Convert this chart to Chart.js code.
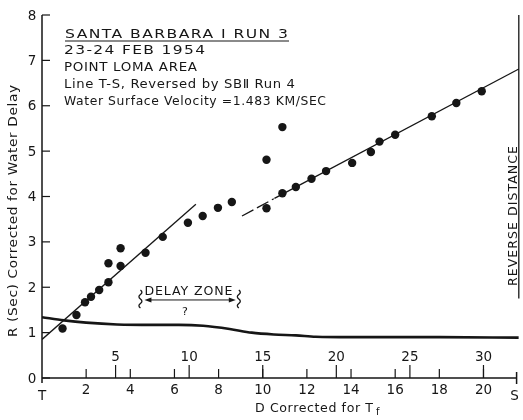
<!DOCTYPE html>
<html lang="en">
<head>
<meta charset="UTF-8">
<title>Santa Barbara I Run 3</title>
<script src="https://cdn.jsdelivr.net/npm/chart.js"></script>
<style>
  html, body { margin: 0; padding: 0; background: #fff; }
  canvas { display: block; }
</style>
</head>
<body>
<canvas id="travel" width="523" height="420"></canvas>
<script>
// shot points: D (corrected for Tf) vs R (sec, corrected for water delay)
const shotD = [0.93, 1.56, 1.95, 2.22, 2.59, 3.01, 3.01, 3.56, 3.56, 4.69, 5.47, 6.61, 7.28, 7.97, 8.6,
               10.17, 10.17, 10.89, 10.89, 11.5, 12.21, 12.87, 14.05, 14.9, 15.29, 16.0, 17.66, 18.77, 19.92];
const shotR = [1.09, 1.39, 1.67, 1.79, 1.94, 2.11, 2.53, 2.47, 2.86, 2.76, 3.11, 3.42, 3.57, 3.75, 3.88,
               4.81, 3.74, 5.53, 4.07, 4.21, 4.39, 4.56, 4.74, 4.98, 5.21, 5.36, 5.77, 6.06, 6.32];

// fitted lines
const nearD = [0, 6.97];
const nearR = [0.85, 3.83];
const farDashD = [9.06, 10.5];
const farDashR = [3.57, 3.95];
const farD = [10.53, 21.6];
const farR = [3.96, 6.81];

// water delay curve
const delayD = [0, 1, 2, 3.4, 5, 6.2, 7.3, 8.5, 9.5, 10.5, 11.5, 12.4, 14, 16, 18, 21.6];
const delayR = [1.34, 1.27, 1.22, 1.18, 1.17, 1.17, 1.15, 1.08, 1.0, 0.96, 0.94, 0.91, 0.9, 0.9, 0.9, 0.89];

// axes
const rTicks = [0, 1, 2, 3, 4, 5, 6, 7, 8];
const dTicks = [2, 4, 6, 8, 10, 12, 14, 16, 18, 20];
const kmTicks = [5, 10, 15, 20, 25, 30];
const kmPerD = 1.5;
const sD = 21.5;        // end of line at S
const reverseD = 21.6;  // reverse distance marker

const infoLines = [
  "23-24 FEB 1954",
  "POINT LOMA AREA",
  "Line T-S, Reversed by SB\u2161 Run 4",
  "Water Surface Velocity =1.483 KM/SEC"
];

const ink = '#161616';
const FONT = '"DejaVu Sans", sans-serif';

const pts = (xs, ys) => xs.map((x, i) => ({ x: x, y: ys[i] }));

// draw text stretched sideways to a given width (lettering is wide)
function fitted(ctx, str, x, y, width, sp) {
  sp = sp === undefined ? 0.6 : sp;
  ctx.letterSpacing = '0px';
  const w = ctx.measureText(str).width + sp * (str.length - 1);
  ctx.letterSpacing = sp + 'px';
  ctx.save();
  ctx.translate(x, y);
  ctx.scale(width / w, 1);
  ctx.fillText(str, 0, 0);
  ctx.restore();
  ctx.letterSpacing = '0px';
}

function squiggle(ctx, x, y1, y2) {
  const n = 4, h = (y2 - y1) / n;
  ctx.beginPath();
  ctx.moveTo(x, y1);
  for (let i = 0; i < n; i++) {
    const dx = i % 2 === 0 ? 3 : -3;
    ctx.quadraticCurveTo(x + dx, y1 + h * (i + 0.5), x, y1 + h * (i + 1));
  }
  ctx.stroke();
}

const paperAxes = {
  id: 'paperAxes',
  beforeDatasetsDraw(chart) {
    const { ctx, scales: { x, y } } = chart;
    const x0 = x.getPixelForValue(0), y0 = y.getPixelForValue(0);
    ctx.save();
    ctx.strokeStyle = ink;
    ctx.fillStyle = ink;
    ctx.lineWidth = 1.5;
    ctx.beginPath();
    ctx.moveTo(x0, y.getPixelForValue(8));
    ctx.lineTo(x0, y0 + 5);
    ctx.moveTo(x0, y0);
    ctx.lineTo(x.getPixelForValue(sD), y0);
    ctx.moveTo(x.getPixelForValue(sD), y0 - 6);
    ctx.lineTo(x.getPixelForValue(sD), y0 + 6);
    ctx.stroke();

    ctx.lineWidth = 1.2;
    ctx.font = '13.5px ' + FONT;
    ctx.textAlign = 'center';
    ctx.textBaseline = 'middle';
    rTicks.forEach(v => {
      const py = y.getPixelForValue(v);
      ctx.beginPath();
      ctx.moveTo(x0, py);
      ctx.lineTo(x0 + 8, py);
      ctx.stroke();
      ctx.fillText(String(v), 32, py + 1);
    });
    dTicks.forEach(v => {
      const px = x.getPixelForValue(v);
      ctx.beginPath();
      ctx.moveTo(px, y0);
      ctx.lineTo(px, y0 - 9);
      ctx.stroke();
      ctx.fillText(String(v), px, y0 + 12);
    });
    kmTicks.forEach(v => {
      const px = x.getPixelForValue(v / kmPerD);
      ctx.beginPath();
      ctx.moveTo(px, y0);
      ctx.lineTo(px, y0 - 13);
      ctx.stroke();
      ctx.fillText(String(v), px, y0 - 21);
    });
    ctx.fillText('T', x0, y0 + 18);
    ctx.fillText('S', x.getPixelForValue(sD) - 2, y0 + 18);

    // reverse distance marker
    const rx = x.getPixelForValue(reverseD);
    ctx.lineWidth = 1.3;
    ctx.beginPath();
    ctx.moveTo(rx, y.getPixelForValue(8));
    ctx.lineTo(rx, y.getPixelForValue(1.75));
    ctx.stroke();
    ctx.restore();
  },
  afterDraw(chart) {
    const { ctx, scales: { x, y } } = chart;
    ctx.save();
    ctx.fillStyle = ink;
    ctx.strokeStyle = ink;
    ctx.textAlign = 'left';
    ctx.textBaseline = 'alphabetic';

    // heading block
    ctx.font = '13px ' + FONT;
    fitted(ctx, 'SANTA BARBARA \u2160 RUN 3', 65, 37.5, 223, 1.2);
    ctx.lineWidth = 1.2;
    ctx.beginPath();
    ctx.moveTo(65, 41);
    ctx.lineTo(289, 41);
    ctx.stroke();
    ctx.font = '500 11.5px ' + FONT;
    fitted(ctx, infoLines[0], 64, 53.5, 141, 1);
    ctx.font = '12.5px ' + FONT;
    fitted(ctx, infoLines[1], 64, 71, 133);
    fitted(ctx, infoLines[2], 64, 88, 231);
    fitted(ctx, infoLines[3], 64, 104.5, 262);

    // axis titles
    ctx.font = '13px ' + FONT;
    ctx.save();
    ctx.translate(17, 337);
    ctx.rotate(-Math.PI / 2);
    fitted(ctx, 'R (Sec) Corrected for Water Delay', 0, 0, 252);
    ctx.restore();

    ctx.font = '12.5px ' + FONT;
    fitted(ctx, 'D Corrected for T', 255, 412, 118);
    ctx.font = '10px ' + FONT;
    ctx.fillText('f', 376, 415);

    ctx.font = '12px ' + FONT;
    ctx.save();
    ctx.translate(517, 286);
    ctx.rotate(-Math.PI / 2);
    fitted(ctx, 'REVERSE DISTANCE', 0, 0, 140, 1);
    ctx.restore();

    // delay zone note
    const zx1 = x.getPixelForValue(4.64), zx2 = x.getPixelForValue(8.78);
    const zy = y.getPixelForValue(1.72);
    ctx.font = '11.5px ' + FONT;
    fitted(ctx, 'DELAY ZONE', zx1, y.getPixelForValue(1.92) + 4.5, 88, 0.8);
    ctx.textAlign = 'center';
    ctx.font = '11px ' + FONT;
    ctx.fillText('?', x.getPixelForValue(6.48), y.getPixelForValue(1.48) + 4);
    ctx.lineWidth = 1;
    ctx.beginPath();
    ctx.moveTo(zx1 + 4, zy);
    ctx.lineTo(zx2 - 4, zy);
    ctx.stroke();
    [[zx1, 1], [zx2, -1]].forEach(([px, dir]) => {
      ctx.beginPath();
      ctx.moveTo(px, zy);
      ctx.lineTo(px + dir * 7, zy - 2.5);
      ctx.lineTo(px + dir * 7, zy + 2.5);
      ctx.closePath();
      ctx.fill();
    });
    ctx.lineWidth = 1.3;
    squiggle(ctx, zx1 - 4, zy - 10, zy + 8);
    squiggle(ctx, zx2 + 3, zy - 10, zy + 8);
    ctx.restore();
  }
};

const lineStyle = {
  showLine: true,
  pointRadius: 0,
  borderColor: ink,
  borderWidth: 1.3,
  fill: false
};

new Chart(document.getElementById('travel'), {
  type: 'scatter',
  data: {
    datasets: [
      Object.assign({ data: pts(delayD, delayR), tension: 0.4, cubicInterpolationMode: 'monotone' }, lineStyle, { borderWidth: 2.6 }),
      Object.assign({ data: pts(nearD, nearR) }, lineStyle),
      Object.assign({ data: pts(farDashD, farDashR), borderDash: [13, 4] }, lineStyle),
      Object.assign({ data: pts(farD, farR), clip: false }, lineStyle),
      {
        data: pts(shotD, shotR),
        pointRadius: 4.2,
        pointBackgroundColor: ink,
        pointBorderWidth: 0,
        showLine: false
      }
    ]
  },
  options: {
    responsive: false,
    animation: false,
    devicePixelRatio: 1,
    layout: { padding: { left: 42, right: 1, top: 15, bottom: 42 } },
    scales: {
      x: { type: 'linear', min: 0, max: 21.6, display: false },
      y: { type: 'linear', min: 0, max: 8, display: false }
    },
    plugins: {
      legend: { display: false },
      tooltip: { enabled: false }
    }
  },
  plugins: [paperAxes]
});
</script>
</body>
</html>
